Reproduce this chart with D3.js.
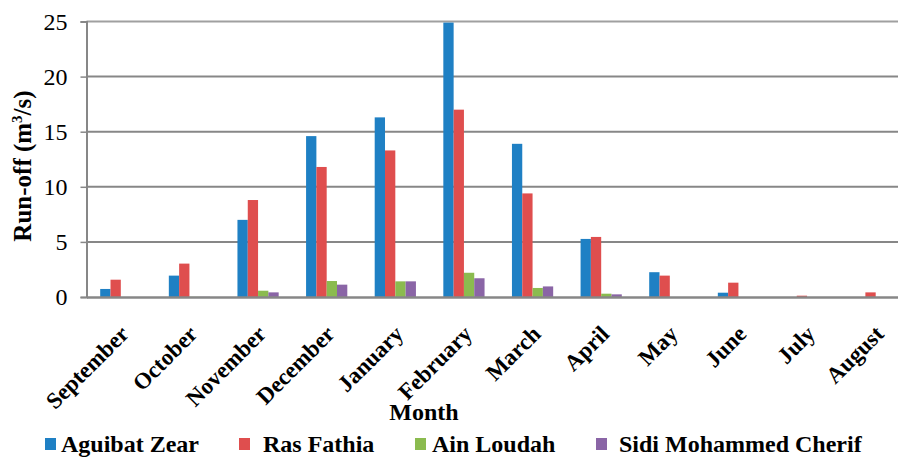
<!DOCTYPE html>
<html>
<head>
<meta charset="utf-8">
<script src="https://cdn.jsdelivr.net/npm/d3@7"></script>
<style>
  body { margin: 0; background: #fff; overflow: hidden; }
  svg { display: block; }
  text { font-family: "Liberation Serif", "Times New Roman", serif; }
</style>
</head>
<body>
<div class="chart"></div>
<script>
var months = ["September", "October", "November", "December", "January", "February",
              "March", "April", "May", "June", "July", "August"];
var seriesNames = ["Aguibat Zear", "Ras Fathia", "Ain Loudah", "Sidi Mohammed Cherif"];
var aguibatZear = [0.73, 1.94, 7.0, 14.6, 16.3, 24.9, 13.9, 5.27, 2.25, 0.39, 0, 0];
var rasFathia = [1.57, 3.03, 8.8, 11.8, 13.3, 17.0, 9.4, 5.45, 1.94, 1.3, 0.12, 0.42];
var ainLoudah = [0, 0.02, 0.57, 1.45, 1.42, 2.2, 0.82, 0.3, 0, 0, 0, 0];
var sidiMohammed = [0, 0.02, 0.42, 1.12, 1.42, 1.7, 0.96, 0.24, 0, 0, 0, 0];
var yTicks = [0, 5, 10, 15, 20, 25];
var colors = ["#1f80c4", "#df4e4e", "#8bbb4f", "#8a65a6"];

var w = 898, h = 459;
// the original picture is cropped on the right, the plot runs past the edge
var plotLeft = 86.5, plotRight = 910, plotTop = 21.5, plotBottom = 297;

var svg = d3.select(".chart").append("svg")
  .attr("width", w)
  .attr("height", h);

var x = d3.scaleBand().domain(months).range([plotLeft, plotRight]);
var x1 = d3.scaleBand().domain(seriesNames).range([13.7, x.bandwidth() - 13.7]);
var y = d3.scaleLinear().domain([0, 25]).range([plotBottom, plotTop]);

// gridlines
svg.append("g")
  .selectAll("line")
  .data(yTicks.slice(1))
  .enter()
  .append("line")
  .attr("x1", plotLeft).attr("x2", plotRight)
  .attr("y1", function(d) { return y(d); })
  .attr("y2", function(d) { return y(d); })
  .attr("stroke", function(d) { return d === 25 ? "#a0a0a0" : "#878787"; })
  .attr("stroke-width", 2);

// y axis
var yAxis = svg.append("g")
  .attr("transform", "translate(" + plotLeft + ",0)")
  .call(d3.axisLeft(y).tickValues(yTicks).tickSize(6).tickPadding(13));
yAxis.select(".domain").attr("stroke", "#878787").attr("stroke-width", 2);
yAxis.selectAll(".tick line").attr("stroke", "#878787").attr("stroke-width", 1.5);
yAxis.selectAll(".tick text")
  .attr("fill", "#000")
  .style("font-size", "24px")
  .style("font-family", "Liberation Serif");

// bars
var allSeries = [aguibatZear, rasFathia, ainLoudah, sidiMohammed];
var groups = svg.append("g").selectAll("g")
  .data(allSeries)
  .enter()
  .append("g")
  .attr("fill", function(d, i) { return colors[i]; });

groups.each(function(values, si) {
  d3.select(this).selectAll("rect")
    .data(values)
    .enter()
    .append("rect")
    .attr("x", function(d, i) { return x(months[i]) + x1(seriesNames[si]); })
    .attr("width", x1.bandwidth())
    .attr("y", function(d) { return y(d); })
    .attr("height", function(d) { return plotBottom - y(d); });
});

// x axis line
var xAxis = svg.append("g")
  .attr("transform", "translate(0," + plotBottom + ")")
  .call(d3.axisBottom(x).tickSize(0).tickFormat(""));
xAxis.select(".domain").attr("stroke", "#878787").attr("stroke-width", 2.5);

// category labels
svg.append("g")
  .selectAll("text")
  .data(months)
  .enter()
  .append("text")
  .attr("transform", function(d) {
    return "translate(" + (x(d) + x.bandwidth() / 2 - 2) + "," + (plotBottom + 27) + ") rotate(-45)";
  })
  .attr("text-anchor", "end")
  .attr("dy", "0.7em")
  .style("font-size", "23px")
  .style("font-weight", "bold")
  .text(function(d) { return d; });

// axis titles
svg.append("text")
  .attr("x", 424).attr("y", 420)
  .attr("text-anchor", "middle")
  .style("font-size", "24px")
  .style("font-weight", "bold")
  .text("Month");

var yTitle = svg.append("text")
  .attr("transform", "translate(31,166) rotate(-90)")
  .attr("text-anchor", "middle")
  .style("font-size", "25px")
  .style("font-weight", "bold");
yTitle.append("tspan").text("Run-off  (m");
yTitle.append("tspan").attr("dy", -9).style("font-size", "15px").text("3");
yTitle.append("tspan").attr("dy", 9).text("/s)");

// legend
var legendX = [45, 239, 415, 596];
var legendTextOffset = [16, 24, 17, 23];
var legend = svg.append("g").selectAll("g")
  .data(seriesNames)
  .enter()
  .append("g")
  .attr("transform", function(d, i) { return "translate(" + legendX[i] + ",438)"; });
legend.append("rect")
  .attr("width", 11).attr("height", 12)
  .attr("fill", function(d, i) { return colors[i]; });
legend.append("text")
  .attr("x", function(d, i) { return legendTextOffset[i]; })
  .attr("y", 14)
  .style("font-size", "24px")
  .style("font-weight", "bold")
  .text(function(d) { return d; });
</script>
</body>
</html>
